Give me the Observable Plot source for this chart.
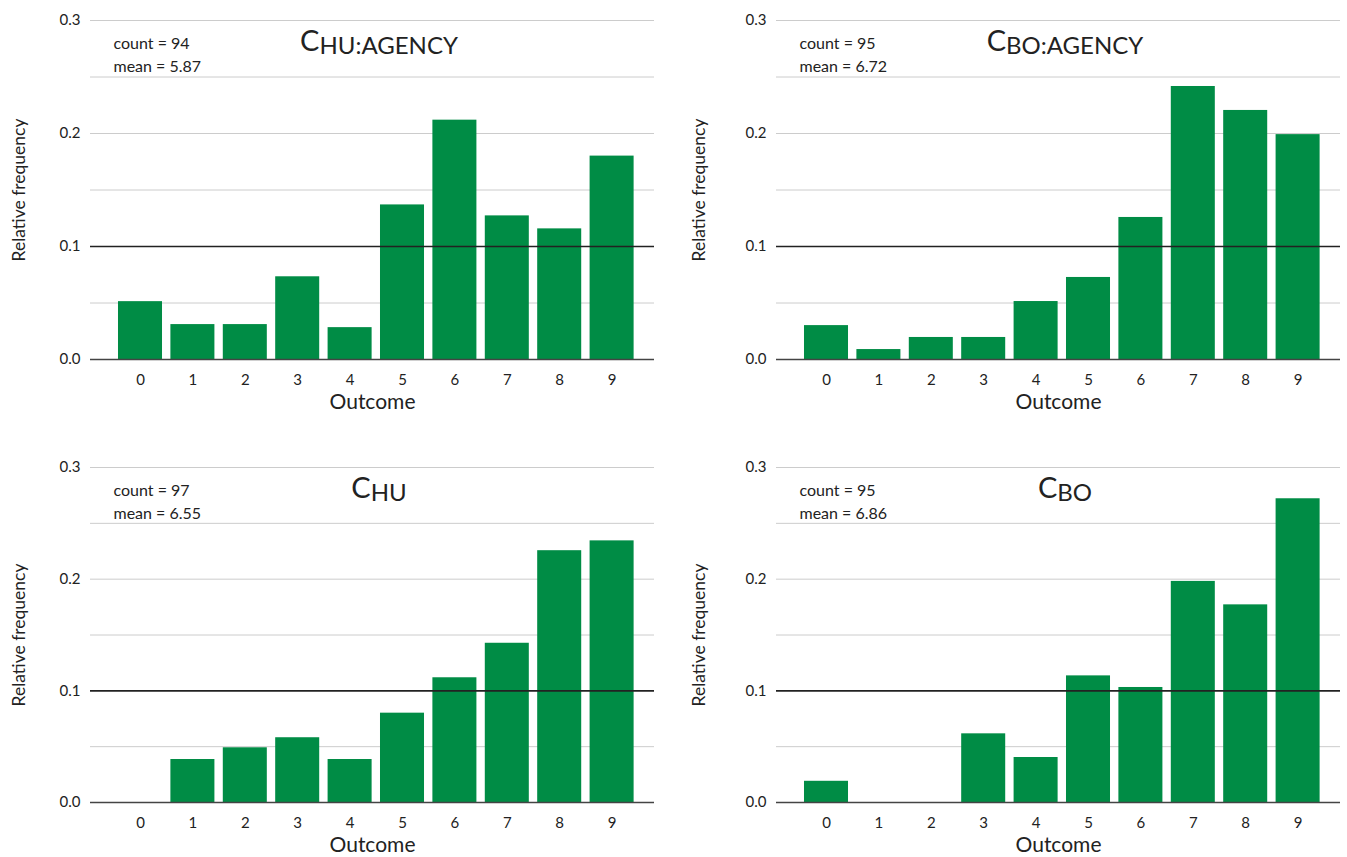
<!DOCTYPE html>
<html>
<head>
<meta charset="utf-8">
<script src="https://cdn.jsdelivr.net/npm/d3@7"></script>
<script src="https://cdn.jsdelivr.net/npm/@observablehq/plot@0.6"></script>
<style>
  body { margin: 0; background: #fff; }
  #grid { display: grid; grid-template-columns: 686px 661px; grid-template-rows: 445px 412px; width: 1347px; }
  #grid svg { display: block; overflow: visible; }
</style>
</head>
<body>
<div id="grid"></div>
<script>
// ---- data ----
const outcomes = [0, 1, 2, 3, 4, 5, 6, 7, 8, 9];
const freqHuAgency = [0.0512, 0.0309, 0.0309, 0.0732, 0.0282, 0.1368, 0.2118, 0.1271, 0.1156, 0.1800];
const freqBoAgency = [0.0300, 0.0088, 0.0195, 0.0195, 0.0513, 0.0726, 0.1257, 0.2416, 0.2204, 0.1990];
const freqHu       = [0.0000, 0.0385, 0.0490, 0.0580, 0.0385, 0.0800, 0.1117, 0.1426, 0.2255, 0.2343];
const freqBo       = [0.0190, 0.0000, 0.0000, 0.0615, 0.0403, 0.1134, 0.1030, 0.1980, 0.1770, 0.2720];
const counts = [94, 95, 97, 95];
const means = ["5.87", "6.72", "6.55", "6.86"];
const titleMain = ["C", "C", "C", "C"];
const titleSub = ["HU:AGENCY", "BO:AGENCY", "HU", "BO"];
const yTicks = [0, 0.1, 0.2, 0.3];
const gridValues = [0.05, 0.15, 0.2, 0.25, 0.3];
const refValue = [0.1];
const yLabel = "Relative frequency";
const xLabel = "Outcome";

const series = [freqHuAgency, freqBoAgency, freqHu, freqBo];
const green = "#008c45";
const font = "Lato, 'Open Sans', sans-serif";

const panels = [
  {w: 686, h: 445, mt: 20, mb: 86, ml: 90, mr: 32, yl: -71},
  {w: 661, h: 445, mt: 20, mb: 86, ml: 90, mr: 7, yl: -77},
  {w: 686, h: 412, mt: 22, mb: 55, ml: 90, mr: 32, yl: -71},
  {w: 661, h: 412, mt: 22, mb: 55, ml: 90, mr: 7, yl: -77}
];

const grid = document.getElementById("grid");

series.forEach((vals, i) => {
  const p = panels[i];
  const data = outcomes.map((o, k) => ({outcome: o, freq: vals[k]}));
  const svg = Plot.plot({
    width: p.w,
    height: p.h,
    marginTop: p.mt,
    marginBottom: p.mb,
    marginLeft: p.ml,
    marginRight: p.mr,
    style: {fontFamily: font, fontSize: "15px", color: "#222", background: "#fff", overflow: "visible"},
    x: {type: "band", domain: outcomes, range: [p.ml + 23.8, p.ml + 547.8], paddingInner: 0.16, paddingOuter: 0.08, round: false},
    y: {domain: [0, 0.3]},
    marks: [
      Plot.ruleY(gridValues, {stroke: "#cccccc", strokeWidth: 1}),
      Plot.barY(data, {x: "outcome", y: "freq", fill: green}),
      Plot.ruleY(refValue, {stroke: "#222", strokeWidth: 1.6}),
      Plot.ruleY([0], {stroke: "#444", strokeWidth: 1.5}),
      Plot.axisY({ticks: yTicks, tickFormat: d3.format(".1f"), tickSize: 0, tickPadding: 10, fontSize: 15, label: null}),
      Plot.axisX({tickSize: 0, tickPadding: 15, fontSize: 15, label: null}),
      Plot.text([yLabel], {frameAnchor: "left", textAnchor: "middle", rotate: -90, dx: p.yl, fontSize: 17.5, fill: "#222"}),
      Plot.text([xLabel], {frameAnchor: "bottom", textAnchor: "middle", dy: 49, fontSize: 21, fill: "#222"}),
      Plot.text([`count = ${counts[i]}\nmean = ${means[i]}`], {frameAnchor: "top-left", textAnchor: "start", lineAnchor: "top", lineHeight: 1.45, dx: 23, dy: 12, fontSize: 16, fill: "#222"})
    ]
  });
  // title with subscript part
  const cx = (p.ml + p.w - p.mr) / 2 + 7;
  const t = d3.select(svg).append("text")
    .attr("x", cx)
    .attr("y", p.mt + 31)
    .attr("text-anchor", "middle")
    .attr("fill", "#222")
    .style("font-family", font);
  t.append("tspan").attr("font-size", 29).text(titleMain[i]);
  t.append("tspan").attr("font-size", 24).attr("dy", 3).text(titleSub[i]);
  grid.appendChild(svg);
});
</script>
</body>
</html>
